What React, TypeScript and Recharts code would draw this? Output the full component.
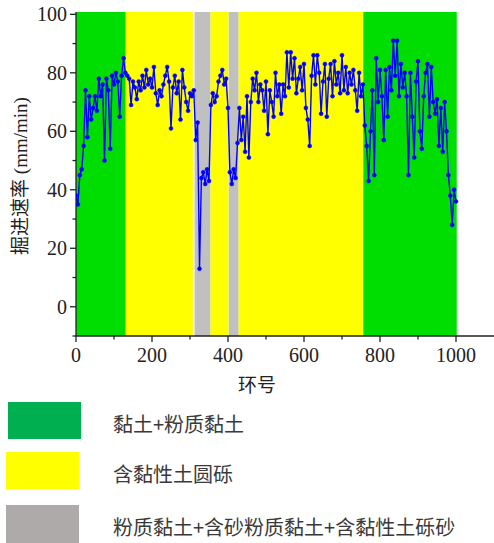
import { ComposedChart, Line, XAxis, YAxis, ReferenceArea } from 'recharts';

// advance rate (mm/min), one reading every 5 rings from ring 0 to ring 1000
const speed = [
  38, 35, 45, 47, 55, 74, 58, 72, 64, 68, 72, 67, 78, 72, 76, 50, 78, 74, 54, 79,
  76, 80, 77, 65, 79, 85, 80,
  79, 78, 69, 77, 75, 71, 77, 74, 79, 75, 81, 76, 78, 75, 82, 73, 69, 74, 72, 76,
  79, 82, 77, 61, 75, 79, 73, 77, 64, 81, 75, 70, 67, 73, 72, 74,
  57, 63, 13, 44, 46, 42, 47, 43,
  69, 73, 70, 72, 77, 79, 81, 76, 78, 68,
  46, 42, 47, 44, 56,
  68, 57, 65, 53, 72, 51, 70, 78, 74, 80,
  70, 76, 74, 67, 77, 59, 74, 70, 65, 80,
  72, 76, 66, 76, 72, 87, 75, 87, 78, 85,
  73, 78, 82, 74, 83, 68, 64, 55, 79, 86,
  76, 86, 80, 66, 77, 83, 65, 78, 83, 72,
  84, 76, 80, 73, 86, 74, 82, 73, 80, 76,
  81, 74, 67, 80, 72, 76,
  62, 55, 43, 60, 74, 45, 85, 70, 81, 72,
  57, 81, 65, 82, 74, 91, 79, 91, 72, 83,
  75, 80, 72, 45, 80, 65, 51, 77, 84, 60,
  54, 72, 80, 83, 65, 82, 70, 66, 71, 55,
  68, 53, 70, 60, 45, 38, 28, 40, 36,
];
const ringNo = speed.map((_, i) => i * 5);

// stratum bands along the ring axis
const strata = [
  { from: 0, to: 131, kind: 'clay' },
  { from: 131, to: 307.5, kind: 'gravel' },
  { from: 312, to: 354, kind: 'mixed' },
  { from: 354, to: 401.5, kind: 'gravel' },
  { from: 402, to: 428, kind: 'mixed' },
  { from: 428, to: 756, kind: 'gravel' },
  { from: 756, to: 1002, kind: 'clay' },
];

const bandColor: Record<string, string> = {
  clay: '#00dd00',
  gravel: '#ffff00',
  mixed: '#c0c0c0',
};

const legendItems = [
  { label: '黏土+粉质黏土', color: '#00b050' },
  { label: '含黏性土圆砾', color: '#ffff00' },
  { label: '粉质黏土+含砂粉质黏土+含黏性土砾砂', color: '#aeaaaa' },
];

const xTicks = [0, 100, 200, 300, 400, 500, 600, 700, 800, 900, 1000];
const yTicks = [-10, 0, 10, 20, 30, 40, 50, 60, 70, 80, 90, 100];

const tickFont = '"Liberation Serif", "DejaVu Serif", serif';

const XTick = ({ x, y, payload }: any) => {
  const major = payload.value % 200 === 0;
  return (
    <g>
      <line x1={x} x2={x} y1={y} y2={y + (major ? 6 : 3.5)} stroke="#222" strokeWidth={1.3} />
      {major && (
        <text x={x} y={y + 26} textAnchor="middle" fontSize={20} fontFamily={tickFont} fill="#222">
          {payload.value}
        </text>
      )}
    </g>
  );
};

const YTick = ({ x, y, payload }: any) => {
  const major = payload.value % 20 === 0;
  return (
    <g>
      <line x1={x} x2={x - (major ? 6 : 3.5)} y1={y} y2={y} stroke="#222" strokeWidth={1.3} />
      {major && (
        <text x={x - 9} y={y + 7} textAnchor="end" fontSize={20} fontFamily={tickFont} fill="#222">
          {payload.value}
        </text>
      )}
    </g>
  );
};

const App = () => {
  const data = ringNo.map((ring, i) => ({ ring, speed: speed[i] }));

  return (
    <div style={{ position: 'absolute', left: 0, top: 0, width: 494, height: 543, background: '#fff' }}>
      <ComposedChart
        width={494}
        height={400}
        data={data}
        margin={{ top: 12, right: 0, bottom: 0, left: 0 }}
      >
        {strata.map((s, i) => (
          <ReferenceArea
            key={i}
            x1={s.from}
            x2={s.to}
            y1={-10}
            y2={100.8}
            fill={bandColor[s.kind]}
            fillOpacity={1}
            stroke="none"
            ifOverflow="hidden"
          />
        ))}
        <XAxis
          dataKey="ring"
          type="number"
          domain={[0, 1100]}
          ticks={xTicks}
          interval={0}
          height={64}
          tickSize={0}
          tickMargin={0}
          tick={<XTick />}
          axisLine={{ stroke: '#222', strokeWidth: 1.3 }}
          allowDataOverflow
        />
        <YAxis
          type="number"
          domain={[-10, 100.8]}
          ticks={yTicks}
          interval={0}
          width={76}
          tickSize={0}
          tickMargin={0}
          tick={<YTick />}
          axisLine={{ stroke: '#222', strokeWidth: 1.3 }}
          allowDataOverflow
        />
        <Line
          dataKey="speed"
          type="linear"
          stroke="#0000ff"
          strokeWidth={1.4}
          dot={{ r: 2, fill: '#0000ff', stroke: '#0000ff', strokeWidth: 0.5 }}
          isAnimationActive={false}
        />
      </ComposedChart>

      <div
        style={{
          position: 'absolute',
          left: 18,
          top: 176,
          transform: 'translate(-50%, -50%) rotate(-90deg)',
          whiteSpace: 'nowrap',
          fontSize: 19,
          fontFamily: '"Liberation Serif", "Noto Sans CJK SC", serif',
          color: '#222',
        }}
      >
        掘进速率 (mm/min)
      </div>
      <div
        style={{
          position: 'absolute',
          left: 257,
          top: 383,
          transform: 'translate(-50%, -50%)',
          whiteSpace: 'nowrap',
          fontSize: 19,
          fontFamily: '"Noto Sans CJK SC", sans-serif',
          color: '#222',
        }}
      >
        环号
      </div>

      {legendItems.map((item, i) => {
        const rectTop = [402, 452, 505][i];
        const rectLeft = i === 0 ? 8 : 6;
        const textMid = [424, 474, 527][i];
        return (
          <div key={item.label}>
            <div
              style={{
                position: 'absolute',
                left: rectLeft,
                top: rectTop,
                width: 73,
                height: i === 2 ? 38 : 37,
                background: item.color,
              }}
            />
            <div
              style={{
                position: 'absolute',
                left: 113,
                top: textMid,
                transform: 'translateY(-50%)',
                whiteSpace: 'nowrap',
                fontSize: 20,
                fontFamily: '"Noto Sans CJK SC", sans-serif',
                color: '#3a3a3a',
                lineHeight: 1,
              }}
            >
              {item.label}
            </div>
          </div>
        );
      })}
    </div>
  );
};

export default App;
